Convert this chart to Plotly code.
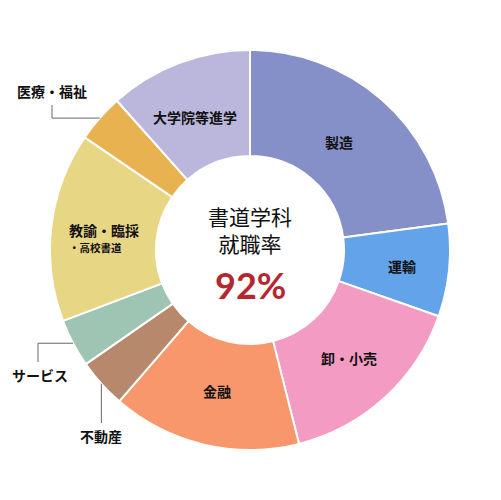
import math
import plotly.graph_objects as go

# 書道学科 卒業生の進路（グラフの角度から読み取った割合 %）
sectors = ["製造", "運輸", "卸・小売", "金融", "不動産", "サービス",
           "教諭・臨採・高校書道", "医療・福祉", "大学院等進学"]
shares = [22.9, 7.5, 15.7, 15.3, 4.0, 3.9, 15.3, 3.9, 11.6]
colors = ["#8590C8", "#63A3E9", "#F39BC3", "#F8976B", "#B7886C",
          "#9EC4B4", "#E7D684", "#E7B24F", "#BBB7DC"]
inside_labels = ["製造", "運輸", "卸・小売", "金融", "", "",
                 "教諭・臨採", "", "大学院等進学"]
sub_label = "・高校書道"
outside_labels = ["医療・福祉", "サービス", "不動産"]

center_title = "書道学科<br>就職率"
center_rate = "92%"

W, H = 501, 500
OFF = 8  # ページ本体の余白分
L, T, R = 50 - OFF, 50 - OFF, 200  # 余白と円の半径（px）
CX, CY = L + R, T + R
JP = "Noto Sans CJK JP, Noto Sans, sans-serif"


def px2paper(x, y):
    # 画面上の座標（px）-> paper 座標
    x, y = x - OFF, y - OFF
    return (x - L) / (2 * R), (T + 2 * R - y) / (2 * R)


def polar(angle, r):
    a = math.radians(angle)
    return CX + OFF + r * math.sin(a), CY + OFF - r * math.cos(a)


# 各扇形の中央角度（12時から時計回り）
total = sum(shares)
mid_angle = {}
acc = 0
for s, v in zip(sectors, shares):
    mid_angle[s] = (acc + v / 2) / total * 360
    acc += v

fig = go.Figure(
    go.Pie(
        labels=sectors,
        values=shares,
        hole=0.47,
        sort=False,
        direction="clockwise",
        rotation=0,
        textinfo="none",
        marker=dict(colors=colors, line=dict(color="white", width=2)),
        showlegend=False,
        domain=dict(x=[0, 1], y=[0, 1]),
    )
)


def note(x, y, text, xanchor="center", **kw):
    px, py = px2paper(x, y)
    return dict(x=px, y=py, xref="paper", yref="paper", text=text,
                showarrow=False, xanchor=xanchor, yanchor="middle",
                borderpad=0, **kw)


label_font = dict(family=JP, size=14, color="#111", weight="bold")

# 扇形の中のラベル（中心からの距離と角度の微調整）
label_pos = {
    "製造": (140, -1.7),
    "運輸": (153, 0),
    "卸・小売": (147, 0),
    "金融": (145, 0),
    "大学院等進学": (144, -1.7),
}
annotations = []
for s, lab in zip(sectors, inside_labels):
    if not lab:
        continue
    if s in label_pos:
        r, da = label_pos[s]
        x, y = polar(mid_angle[s] + da, r)
        annotations.append(note(x, y, lab, font=label_font))
    else:
        # 2行ラベルは左揃え
        annotations.append(note(68, 230, lab, xanchor="left", font=label_font))
        annotations.append(note(68, 247, sub_label, xanchor="left",
                                font=dict(label_font, size=10.5)))

# 外側ラベルと引き出し線（アンカーは扇形の外周中央）
shapes = []
leaders = {
    "医療・福祉": dict(elbow=52, end=105, text=(52, 91)),
    "サービス": dict(elbow=38, end=362, text=(40, 375)),
    "不動産": dict(elbow=None, end=423, text=(101, 436)),
}
for s in outside_labels:
    ax, ay = polar(mid_angle[s], 200)
    g = leaders[s]
    if g["elbow"]:
        pts = [(ax, ay), (g["elbow"], ay), (g["elbow"], g["end"])]
    else:
        pts = [(ax, ay), (ax, g["end"])]
    path = "M " + " L ".join("%.4f,%.4f" % px2paper(*p) for p in pts)
    shapes.append(dict(type="path", path=path, xref="paper", yref="paper",
                       line=dict(color="#666", width=1)))
    annotations.append(note(*g["text"], s, font=label_font))

# 中央の文字
annotations.append(note(250, 229, center_title,
                        font=dict(family=JP, size=21, color="#111")))
annotations.append(note(250, 285, center_rate,
                        font=dict(family="Lato, sans-serif", size=36,
                                  color="#B5272F", weight="bold")))

fig.update_layout(
    width=W,
    height=H,
    margin=dict(l=L, r=W - L - 2 * R, t=T, b=H - T - 2 * R, pad=0),
    paper_bgcolor="white",
    plot_bgcolor="white",
    annotations=annotations,
    shapes=shapes,
)

fig.write_html("out.html")
